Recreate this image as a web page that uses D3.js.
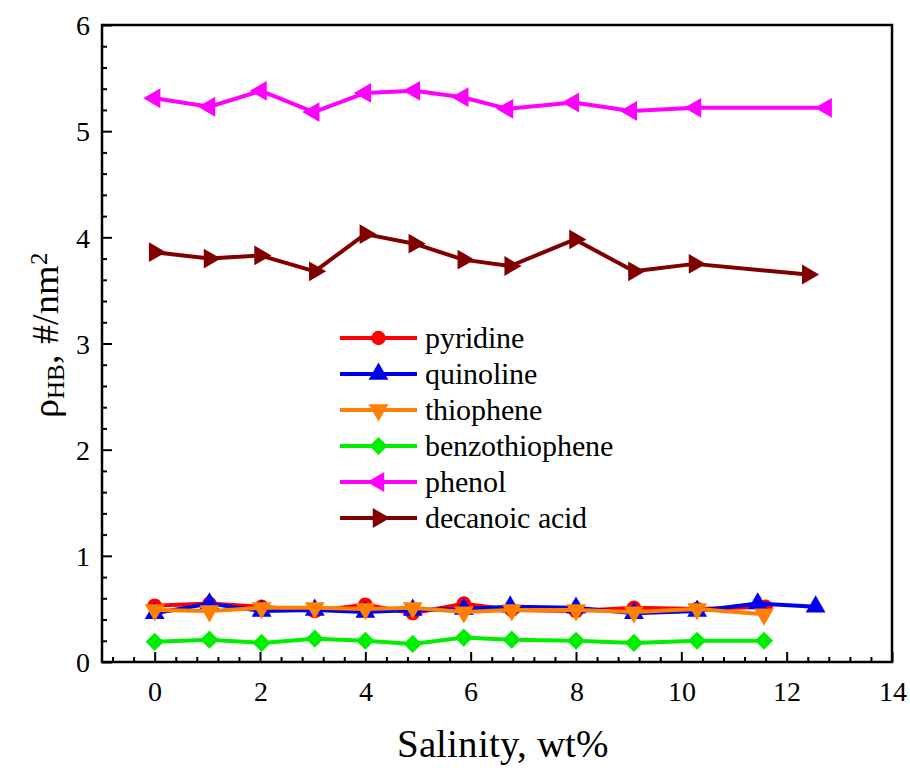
<!DOCTYPE html>
<html><head><meta charset="utf-8">
<script src="https://cdn.jsdelivr.net/npm/d3@7"></script>
<style>
@font-face { font-family: "RefSerif"; src: local("Liberation Serif"), local("LiberationSerif"), local("LiberationSerif-Regular"), local("Times New Roman"); }
body { margin: 0; background: #fff; }
</style>
</head><body>
<div id="wrap" style="position:relative;width:910px;height:768px;">
<svg id="chart" width="910" height="768" style="position:absolute;left:0;top:0"></svg>
</div>
<script>
const seriesNames = ["pyridine","quinoline","thiophene","benzothiophene","phenol","decanoic acid"];
const seriesColors = ["#ff0000","#0000ee","#ff8000","#00ee00","#ff00ff","#800000"];
const pyridineX = [0, 1.04, 2.03, 3.04, 4.0, 4.9, 5.87, 6.78, 8.0, 9.1, 10.3, 11.6];
const pyridineY = [0.53, 0.55, 0.52, 0.48, 0.54, 0.46, 0.55, 0.49, 0.48, 0.51, 0.50, 0.52];
const quinolineX = [0, 1.04, 2.03, 3.04, 4.0, 4.9, 5.87, 6.75, 8.0, 9.1, 10.3, 11.45, 12.55];
const quinolineY = [0.46, 0.55, 0.48, 0.49, 0.47, 0.49, 0.50, 0.52, 0.51, 0.46, 0.48, 0.55, 0.52];
const thiopheneX = [0, 1.04, 2.03, 3.04, 4.0, 4.9, 5.87, 6.78, 8.0, 9.1, 10.3, 11.57];
const thiopheneY = [0.49, 0.48, 0.51, 0.51, 0.50, 0.51, 0.47, 0.49, 0.49, 0.47, 0.50, 0.45];
const benzothiopheneX = [0, 1.04, 2.03, 3.04, 4.0, 4.9, 5.87, 6.78, 8.0, 9.1, 10.3, 11.57];
const benzothiopheneY = [0.19, 0.21, 0.18, 0.22, 0.20, 0.17, 0.23, 0.21, 0.20, 0.18, 0.20, 0.20];
const phenolX = [0, 1.04, 2.02, 3.02, 4.0, 4.93, 5.85, 6.7, 7.95, 9.05, 10.27, 12.75];
const phenolY = [5.31, 5.23, 5.38, 5.18, 5.36, 5.38, 5.32, 5.21, 5.27, 5.19, 5.22, 5.22];
const decanoicX = [0, 1.04, 2.0, 3.04, 4.0, 4.93, 5.86, 6.75, 7.98, 9.1, 10.25, 12.4];
const decanoicY = [3.86, 3.80, 3.83, 3.68, 4.03, 3.94, 3.79, 3.73, 3.98, 3.68, 3.75, 3.65];
const xTickLabels = [0, 2, 4, 6, 8, 10, 12, 14];
const yTickLabels = [0, 1, 2, 3, 4, 5, 6];

const seriesX = [pyridineX, quinolineX, thiopheneX, benzothiopheneX, phenolX, decanoicX];
const seriesY = [pyridineY, quinolineY, thiopheneY, benzothiopheneY, phenolY, decanoicY];

const FONT = "RefSerif, 'Liberation Serif', 'Times New Roman', serif";
const svg = d3.select("#chart");
const L = 102, R = 892, T = 25, B = 662;
const x = d3.scaleLinear().domain([-1, 14]).range([L, R]);
const y = d3.scaleLinear().domain([0, 6]).range([B, T]);

function serif(sel, size) {
  return sel.attr("font-family", FONT).style("font-family", FONT, "important")
    .attr("font-size", size).style("font-size", size + "px", "important");
}

const symDefs = [
  {type: d3.symbolCircle, size: 165, rot: 0},
  {type: d3.symbolTriangle, size: 170, rot: 0},
  {type: d3.symbolTriangle, size: 170, rot: 180},
  {type: d3.symbolSquare, size: 165, rot: 45},
  {type: d3.symbolTriangle, size: 170, rot: -90},
  {type: d3.symbolTriangle, size: 170, rot: 90}
];

const xMinor = d3.range(-2, 36).map(k => +(k * 0.4).toFixed(2)).filter(v => !(Number.isInteger(v) && v % 2 === 0));
const yMinor = d3.range(0, 31).map(k => +(k * 0.2).toFixed(2)).filter(v => !Number.isInteger(v));
const fmt = d3.format("d");

const gx = svg.append("g").attr("transform", `translate(0,${B})`);
gx.call(d3.axisBottom(x).tickValues(xMinor).tickSize(-5).tickSizeOuter(0).tickFormat(""));
const gx2 = svg.append("g").attr("transform", `translate(0,${B})`);
gx2.call(d3.axisBottom(x).tickValues(xTickLabels).tickSize(-10).tickSizeOuter(0).tickPadding(19).tickFormat(fmt));
const gy = svg.append("g").attr("transform", `translate(${L},0)`);
gy.call(d3.axisLeft(y).tickValues(yMinor).tickSize(-5).tickSizeOuter(0).tickFormat(""));
const gy2 = svg.append("g").attr("transform", `translate(${L},0)`);
gy2.call(d3.axisLeft(y).tickValues(yTickLabels).tickSize(-10).tickSizeOuter(0).tickPadding(12).tickFormat(fmt));
[gx, gx2, gy, gy2].forEach(g => {
  g.attr("font-family", FONT).attr("font-size", null);
  g.selectAll(".domain").remove();
  g.selectAll("line").attr("stroke", "#000").attr("stroke-width", 2);
  serif(g.selectAll("text"), 28).attr("fill", "#000");
});
gy2.selectAll("text").attr("dy", "0.35em");

svg.append("rect").attr("x", L).attr("y", T).attr("width", R - L).attr("height", B - T)
  .attr("fill", "none").attr("stroke", "#000").attr("stroke-width", 2.5);

const line = d3.line().x(d => x(d[0])).y(d => y(d[1]));
seriesNames.forEach((name, i) => {
  const pts = seriesX[i].map((v, j) => [v, seriesY[i][j]]);
  const g = svg.append("g");
  g.append("path").attr("d", line(pts)).attr("fill", "none")
    .attr("stroke", seriesColors[i]).attr("stroke-width", 4).attr("stroke-linejoin", "round");
  const sym = d3.symbol().type(symDefs[i].type).size(symDefs[i].size);
  g.selectAll("path.m").data(pts).join("path").attr("class", "m")
    .attr("d", sym).attr("fill", seriesColors[i])
    .attr("transform", d => `translate(${x(d[0])},${y(d[1])}) rotate(${symDefs[i].rot})`);
});

const leg = svg.append("g");
seriesNames.forEach((name, i) => {
  const yy = 338 + i * 36;
  leg.append("line").attr("x1", 340).attr("x2", 417).attr("y1", yy).attr("y2", yy)
    .attr("stroke", seriesColors[i]).attr("stroke-width", 4);
  const sym = d3.symbol().type(symDefs[i].type).size(symDefs[i].size);
  leg.append("path").attr("d", sym).attr("fill", seriesColors[i])
    .attr("transform", `translate(378.5,${yy}) rotate(${symDefs[i].rot})`);
  serif(leg.append("text").attr("x", 425).attr("y", yy).attr("dy", "0.33em"), 30).text(name);
});

serif(svg.append("text").attr("x", (L + R) / 2 + 5).attr("y", 757).attr("text-anchor", "middle"), 39)
  .text("Salinity, wt%");

const yt = serif(svg.append("text").attr("transform", "translate(58,335) rotate(-90)").attr("text-anchor", "middle"), 38);
yt.append("tspan").text("ρ");
yt.append("tspan").attr("baseline-shift", "-25%").attr("font-size", 25).style("font-size", "25px").text("HB");
yt.append("tspan").text(", #/nm");
yt.append("tspan").attr("baseline-shift", "45%").attr("font-size", 25).style("font-size", "25px").text("2");
</script>
</body></html>
